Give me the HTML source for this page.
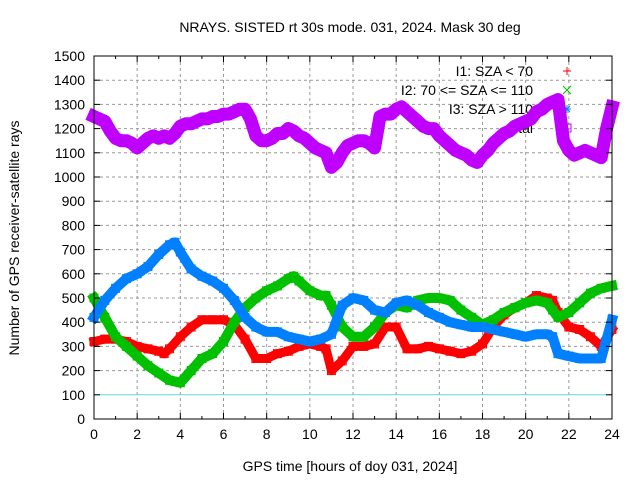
<!DOCTYPE html>
<html><head><meta charset="utf-8"><style>
body{margin:0;background:#fff}
svg{display:block;font-family:"Liberation Sans",sans-serif}
</style></head><body>
<svg id="c" width="640" height="480" viewBox="0 0 640 480">
<text x="350" y="32" font-size="14" text-anchor="middle">NRAYS. SISTED rt 30s mode. 031, 2024. Mask 30 deg</text>
<g id="grid"></g>
<g id="legend"></g>
<g id="series"></g>
<g id="axes"></g>
<text x="350" y="471" font-size="14" text-anchor="middle">GPS time [hours of doy 031, 2024]</text>
<text transform="translate(19,238) rotate(-90)" font-size="14" text-anchor="middle">Number of GPS receiver-satellite rays</text>
</svg>
<script>
const xTicks=[0,2,4,6,8,10,12,14,16,18,20,22,24];
const yTicks=[0,100,200,300,400,500,600,700,800,900,1000,1100,1200,1300,1400,1500];
const totalHours=[0,0.25,0.5,0.75,1,1.25,1.5,1.75,2,2.25,2.5,2.75,3,3.25,3.5,3.75,4,4.25,4.5,4.75,5,5.25,5.5,5.75,6,6.25,6.5,6.75,7,7.25,7.5,7.75,8,8.25,8.5,8.75,9,9.25,9.5,9.75,10,10.25,10.5,10.75,11,11.25,11.5,11.75,12,12.25,12.5,12.75,13,13.25,13.5,13.75,14,14.25,14.5,14.75,15,15.25,15.5,15.75,16,16.25,16.5,16.75,17,17.25,17.5,17.75,18,18.25,18.5,18.75,19,19.25,19.5,19.75,20,20.25,20.5,20.75,21,21.25,21.5,21.75,22,22.25,22.5,22.75,23,23.25,23.5,23.75,24];
const totalValues=[1250,1240,1230,1190,1160,1150,1150,1140,1120,1140,1160,1170,1160,1170,1160,1180,1210,1220,1220,1230,1240,1240,1250,1250,1260,1260,1270,1280,1280,1240,1170,1150,1150,1160,1180,1180,1200,1190,1170,1160,1140,1120,1110,1100,1040,1060,1100,1130,1140,1150,1150,1140,1120,1250,1260,1260,1280,1290,1270,1250,1230,1210,1200,1200,1170,1150,1130,1110,1100,1090,1070,1060,1090,1110,1140,1160,1180,1190,1210,1220,1230,1240,1270,1280,1300,1310,1320,1150,1110,1090,1100,1110,1100,1090,1080,1200,1290];
const i1Hours=[0,0.5,1,1.5,2,2.5,3,3.25,3.5,4,4.5,5,5.5,6,6.5,7,7.5,8,8.5,9,9.5,10,10.5,10.75,11,11.5,12,12.5,13,13.5,14,14.5,15,15.5,16,16.5,17,17.5,18,18.5,19,19.5,20,20.5,21,21.25,21.5,22,22.5,23,23.5,24];
const i1Values=[320,330,330,320,300,290,280,270,290,340,380,410,410,410,390,330,250,250,270,280,300,310,300,290,200,240,300,300,310,380,380,290,290,300,290,280,270,280,310,380,430,460,480,510,500,490,440,380,370,340,300,370];
const i2Hours=[0,0.5,1,1.5,2,2.5,3,3.5,4,4.5,5,5.5,6,6.5,7,7.5,8,8.5,9,9.25,9.5,10,10.5,10.75,11,11.5,12,12.5,13,13.5,14,14.5,15,15.5,16,16.5,17,17.5,18,18.5,19,19.5,20,20.5,21,21.25,21.5,22,22.5,23,23.5,24];
const i2Values=[500,420,340,300,260,220,190,160,150,200,250,270,320,400,460,500,530,550,580,590,570,530,510,510,470,380,340,340,380,440,470,460,490,500,500,490,450,420,390,410,440,460,480,490,480,450,420,440,480,520,540,550];
const i3Hours=[0,0.5,1,1.5,2,2.5,3,3.5,3.75,4,4.5,5,5.5,6,6.5,7,7.5,8,8.5,9,9.5,10,10.5,11,11.5,12,12.5,13,13.5,14,14.5,15,15.5,16,16.5,17,17.5,18,18.5,19,19.5,20,20.5,21,21.25,21.5,22,22.5,23,23.5,24];
const i3Values=[420,490,540,580,600,630,680,720,730,690,620,590,570,540,490,420,380,360,360,340,330,320,330,350,470,500,490,450,440,480,490,470,440,420,400,390,380,380,370,360,350,340,350,350,340,270,260,250,250,250,410];
const L=94,R=612,T=56,B=419;
const xs=h=>L+(h/24)*(R-L), ys=v=>B-(v/1500)*(B-T);
const NS="http://www.w3.org/2000/svg";
function mk(t,a,p){const e=document.createElementNS(NS,t);for(const k in a)e.setAttribute(k,a[k]);p.appendChild(e);return e;}
const grid=document.getElementById('grid'),axes=document.getElementById('axes'),ser=document.getElementById('series'),leg=document.getElementById('legend');
xTicks.forEach(h=>{
 if(h>0&&h<24){const g=mk('line',{x1:xs(h),x2:xs(h),y1:T,y2:B,stroke:'#999','stroke-dasharray':'3,3'},grid);
 
 }
 const t=mk('text',{x:xs(h),y:B+20,'font-size':14,'text-anchor':'middle'},axes);t.textContent=h;
 
 
 mk('line',{x1:xs(h),x2:xs(h),y1:B,y2:B-6,stroke:'#000'},axes);
 mk('line',{x1:xs(h),x2:xs(h),y1:T,y2:T+6,stroke:'#000'},axes);
});
for(let h=1;h<24;h+=2){mk('line',{x1:xs(h),x2:xs(h),y1:B,y2:B-3,stroke:'#000'},axes);mk('line',{x1:xs(h),x2:xs(h),y1:T,y2:T+3,stroke:'#000'},axes);}
yTicks.forEach(v=>{
 if(v>0&&v<1500&&v!==100){const g=mk('line',{x1:L,x2:R,y1:ys(v),y2:ys(v),stroke:'#999','stroke-dasharray':'3,3'},grid);
 
 }
 const t=mk('text',{x:L-9,y:ys(v)+5,'font-size':14,'text-anchor':'end'},axes);t.textContent=v;
 
 
 mk('line',{x1:L,x2:L+6,y1:ys(v),y2:ys(v),stroke:'#000'},axes);
 mk('line',{x1:R,x2:R-6,y1:ys(v),y2:ys(v),stroke:'#000'},axes);
});
const ref=mk('line',{x1:L,x2:R,y1:ys(100),y2:ys(100),stroke:'#60d8d8','stroke-width':1},grid);


const frame=mk('rect',{x:L,y:T,width:R-L,height:B-T,fill:'none',stroke:'#000'},axes);


function series(hours,vals,color,w,name){
 const g=mk('g',{},ser);
 
 
 const pts=hours.map((h,i)=>xs(h)+','+ys(vals[i])).join(' ');
 mk('polyline',{points:pts,fill:'none',stroke:color,'stroke-width':w,'stroke-linejoin':'round','stroke-linecap':'square'},g);
 hours.forEach((h,i)=>{const m=mk('rect',{x:xs(h)-4,y:ys(vals[i])-4,width:8,height:8,fill:'none',stroke:color},g);
 
 });
}
series(i1Hours,i1Values,'#ff0000',9,'series-i1');
series(i2Hours,i2Values,'#00c000',10,'series-i2');
series(i3Hours,i3Values,'#0080ff',10,'series-i3');
series(totalHours,totalValues,'#c000ff',13,'series-total');
const labels=['I1: SZA < 70','I2: 70 <= SZA <= 110','I3: SZA > 110','total'];
const colors=['#ff0000','#00c000','#0080ff','#c000ff'];
labels.forEach((l,i)=>{
 const y=76+i*19, cx=567, cy=y-5;
 const t=mk('text',{x:533,y:y,'font-size':14,'text-anchor':'end'},leg);t.textContent=l;
 
 
 let d;
 if(i===0)d=`M${cx-4},${cy}H${cx+4}M${cx},${cy-4}V${cy+4}`;
 else if(i===1)d=`M${cx-4},${cy-4}L${cx+4},${cy+4}M${cx-4},${cy+4}L${cx+4},${cy-4}`;
 else if(i===2)d=`M${cx-4},${cy}H${cx+4}M${cx},${cy-4}V${cy+4}M${cx-3},${cy-3}L${cx+3},${cy+3}M${cx-3},${cy+3}L${cx+3},${cy-3}`;
 else d=`M${cx-4},${cy-4}H${cx+4}V${cy+4}H${cx-4}Z`;
 const s=mk('path',{d:d,fill:'none',stroke:colors[i]},leg);
 
 
});
</script>
</body></html>
